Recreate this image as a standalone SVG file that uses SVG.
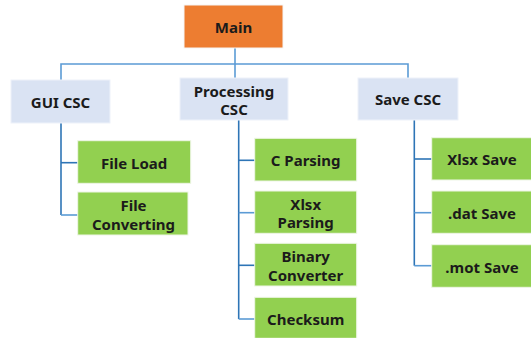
<svg xmlns="http://www.w3.org/2000/svg" width="531" height="338" viewBox="0 0 531 338">
<style>
.t{font-family:"Noto Sans","Open Sans","DejaVu Sans",sans-serif;font-size:15px;font-weight:bold;fill:#1b1b1b;text-anchor:middle;dominant-baseline:central}
.main{fill:#ED7D31;stroke:#f5f5f5;stroke-width:1}
.csc{fill:#DAE3F3;stroke:#eef2fa;stroke-width:1}
.leaf{fill:#92D050;stroke:#eef6e6;stroke-width:1}
.c{fill:none;stroke:#5B9BD5;stroke-width:1.6}
.d{fill:none;stroke:#2E75B6;stroke-width:1.6}
</style>
<rect width="531" height="338" fill="#ffffff"/>
<g id="connectors">
<path class="c" d="M235 48V79"/>
<path class="c" d="M61 80V64H408V78"/>
<path class="d" d="M61 123V215"/>
<path class="d" d="M61 162.7H78"/>
<path class="c" d="M61 215H78"/>
<path class="d" d="M238.7 120V319"/>
<path class="d" d="M238.7 160.3H255"/>
<path class="c" d="M238.7 212.7H255"/>
<path class="d" d="M238.7 265.3H255"/>
<path class="c" d="M238.7 319H255"/>
<path class="d" d="M414.3 120V265.7"/>
<path class="d" d="M414.3 159H432"/>
<path class="c" d="M414.3 212.7H432"/>
<path class="c" d="M414.3 265.7H432"/>
</g>
<g id="main"><rect class="main" x="184" y="5" width="99" height="43"/><text class="t" x="233.5" y="26.5">Main</text></g>
<g id="gui"><rect class="csc" x="11" y="80" width="99" height="43"/><text class="t" x="60.5" y="102">GUI CSC</text></g>
<g id="processing"><rect class="csc" x="180" y="78" width="108" height="42"/><text class="t" x="234" y="90.5">Processing</text><text class="t" x="234" y="109">CSC</text></g>
<g id="save"><rect class="csc" x="358" y="78" width="100" height="42"/><text class="t" x="408" y="99">Save CSC</text></g>
<g id="fileload"><rect class="leaf" x="77.7" y="140.7" width="113" height="42.6"/><text class="t" x="134.2" y="162.7">File Load</text></g>
<g id="fileconv"><rect class="leaf" x="77.7" y="192" width="110.3" height="43"/><text class="t" x="133.5" y="205">File</text><text class="t" x="133.5" y="224">Converting</text></g>
<g id="cparsing"><rect class="leaf" x="254.7" y="138.3" width="102" height="42.7"/><text class="t" x="305.7" y="160.3">C Parsing</text></g>
<g id="xlsxparsing"><rect class="leaf" x="254.7" y="191" width="102" height="42.3"/><text class="t" x="305.7" y="203.5">Xlsx</text><text class="t" x="305.7" y="222">Parsing</text></g>
<g id="binconv"><rect class="leaf" x="254.7" y="243.3" width="102" height="42.7"/><text class="t" x="305.7" y="256">Binary</text><text class="t" x="305.7" y="274.5">Converter</text></g>
<g id="checksum"><rect class="leaf" x="254.7" y="297.3" width="102" height="41"/><text class="t" x="305.7" y="319">Checksum</text></g>
<g id="xlsxsave"><rect class="leaf" x="431.7" y="137.7" width="100" height="42.3"/><text class="t" x="482" y="159">Xlsx Save</text></g>
<g id="datsave"><rect class="leaf" x="431.7" y="191" width="100" height="42.3"/><text class="t" x="482" y="212.7">.dat Save</text></g>
<g id="motsave"><rect class="leaf" x="431.7" y="244.7" width="100" height="42.6"/><text class="t" x="482" y="266.5">.mot Save</text></g>
</svg>
